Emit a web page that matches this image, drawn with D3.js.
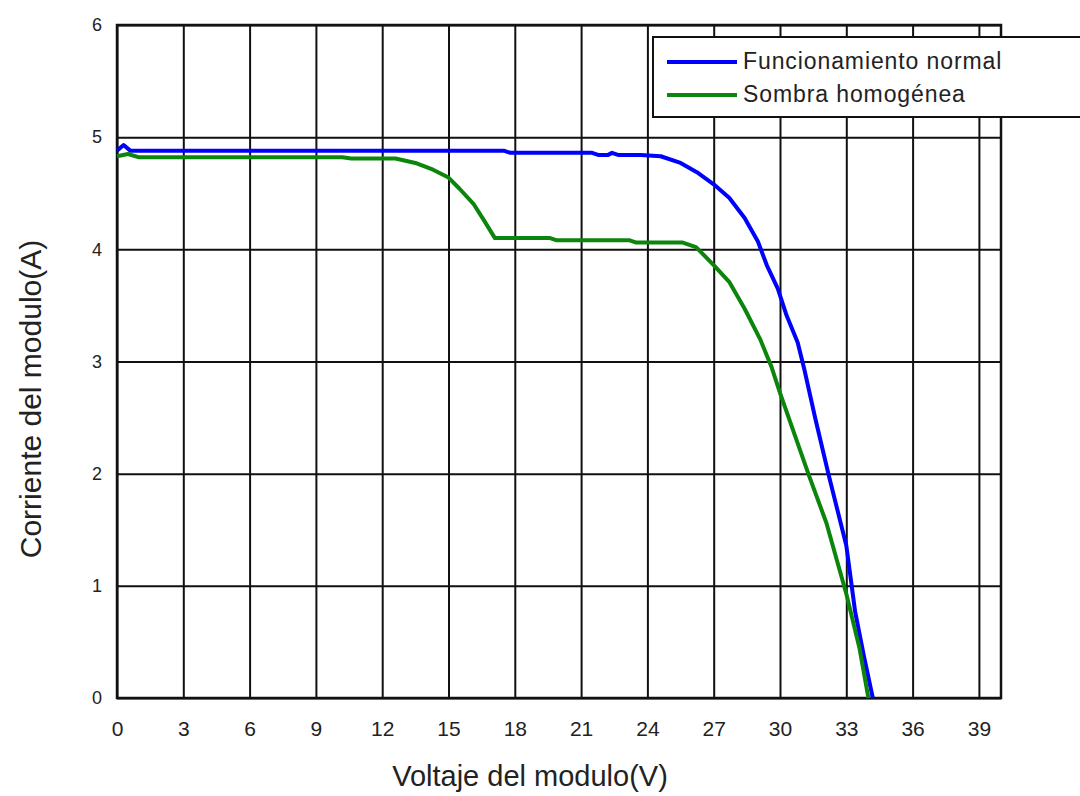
<!DOCTYPE html>
<html>
<head>
<meta charset="utf-8">
<script src="https://cdn.jsdelivr.net/npm/d3@7"></script>
<style>
  body { margin: 0; background: #fff; }
  svg text { font-family: "Liberation Sans", Arial, sans-serif; fill: #222; }
</style>
</head>
<body>
<div id="chart"></div>
<script>
// curve data
const voltsNormal = [0, 0.3, 0.6, 2, 6, 10, 14, 17.5, 17.8, 21.5, 21.8, 22.2, 22.4, 22.7, 23.7, 24.6, 25.5, 26.3, 27.0, 27.7, 28.4, 29.0, 29.4, 29.9, 30.3, 30.8, 31.1, 31.6, 32.2, 33.0, 33.4, 33.8, 34.2];
const currentNormal = [4.88, 4.93, 4.88, 4.88, 4.88, 4.88, 4.88, 4.88, 4.86, 4.86, 4.84, 4.84, 4.86, 4.84, 4.84, 4.83, 4.77, 4.68, 4.58, 4.46, 4.28, 4.07, 3.86, 3.65, 3.41, 3.17, 2.93, 2.49, 1.99, 1.36, 0.77, 0.37, 0.0];

const voltsShade = [0, 0.5, 1.0, 1.5, 5, 10.2, 10.6, 12.0, 12.6, 13.5, 14.3, 15.0, 15.5, 16.15, 16.6, 17.1, 19.6, 19.9, 23.2, 23.5, 25.6, 26.2, 27.0, 27.7, 28.4, 29.1, 29.6, 30.0, 31.3, 32.1, 33.0, 33.6, 34.0];
const currentShade = [4.83, 4.85, 4.82, 4.82, 4.82, 4.82, 4.81, 4.81, 4.81, 4.77, 4.71, 4.64, 4.54, 4.40, 4.26, 4.10, 4.10, 4.08, 4.08, 4.06, 4.06, 4.02, 3.86, 3.71, 3.47, 3.20, 2.96, 2.72, 1.99, 1.56, 0.93, 0.44, 0.0];

const xTicks = [0, 3, 6, 9, 12, 15, 18, 21, 24, 27, 30, 33, 36, 39];
const yTicks = [0, 1, 2, 3, 4, 5, 6];

const seriesNames = ["Funcionamiento normal", "Sombra homogénea"];
const seriesColors = ["#0000ff", "#0b850b"];

const WIDTH = 1080;
const HEIGHT = 796;
const MARGIN = { left: 117, right: 79, top: 25, bottom: 98 };

const svg = d3.select("#chart").append("svg")
              .attr("width", WIDTH)
              .attr("height", HEIGHT);

const x = d3.scaleLinear()
            .domain([0, 40])
            .range([MARGIN.left, WIDTH - MARGIN.right]);

const y = d3.scaleLinear()
            .domain([0, 6])
            .range([HEIGHT - MARGIN.bottom, MARGIN.top]);

const plotH = y(0) - y(6);
const plotW = x(40) - x(0);

// grid via axes
const xAxis = svg.append("g")
                 .attr("transform", `translate(0, ${y(0)})`)
                 .call(d3.axisBottom(x).tickValues(xTicks).tickSize(-plotH).tickPadding(23).tickFormat(d3.format("d")));

const yAxis = svg.append("g")
                 .attr("transform", `translate(${x(0)}, 0)`)
                 .call(d3.axisLeft(y).tickValues(yTicks).tickSize(-plotW).tickPadding(15).tickFormat(d3.format("d")));

[xAxis, yAxis].forEach(a => {
    a.select(".domain").remove();
    a.selectAll(".tick line").attr("stroke", "#111").attr("stroke-width", 2);
});
xAxis.selectAll("text").attr("font-size", 21).attr("fill", "#222");
yAxis.selectAll("text").attr("font-size", 18).attr("fill", "#222");

// frame
svg.append("rect")
   .attr("x", x(0))
   .attr("y", y(6))
   .attr("width", plotW)
   .attr("height", plotH)
   .attr("fill", "none")
   .attr("stroke", "#111")
   .attr("stroke-width", 2.5);

// curves
const line = d3.line()
               .x(d => x(d[0]))
               .y(d => y(d[1]));

const series = [
    d3.zip(voltsNormal, currentNormal),
    d3.zip(voltsShade, currentShade)
];

svg.selectAll(".curve")
   .data(series)
   .enter()
   .append("path")
   .attr("class", "curve")
   .attr("d", line)
   .attr("fill", "none")
   .attr("stroke", (d, i) => seriesColors[i])
   .attr("stroke-width", 4)
   .attr("stroke-linejoin", "round");

// legend
const legend = svg.append("g");
legend.append("rect")
      .attr("x", 653)
      .attr("y", 37)
      .attr("width", 460)
      .attr("height", 80)
      .attr("fill", "#fff")
      .attr("stroke", "#111")
      .attr("stroke-width", 2);

seriesNames.forEach((name, i) => {
    const ly = 62 + i * 33;
    legend.append("line")
          .attr("x1", 667).attr("x2", 737)
          .attr("y1", ly).attr("y2", ly)
          .attr("stroke", seriesColors[i])
          .attr("stroke-width", 4);
    legend.append("text")
          .attr("x", 743)
          .attr("y", ly + 7)
          .attr("font-size", 23)
          .attr("letter-spacing", 0.9)
          .text(name);
});

// axis titles
svg.append("text")
   .attr("x", 530)
   .attr("y", 786)
   .attr("text-anchor", "middle")
   .attr("font-size", 29)
   .text("Voltaje del modulo(V)");

svg.append("text")
   .attr("transform", "rotate(-90)")
   .attr("x", -399)
   .attr("y", 41)
   .attr("text-anchor", "middle")
   .attr("font-size", 30)
   .text("Corriente del modulo(A)");
</script>
</body>
</html>
